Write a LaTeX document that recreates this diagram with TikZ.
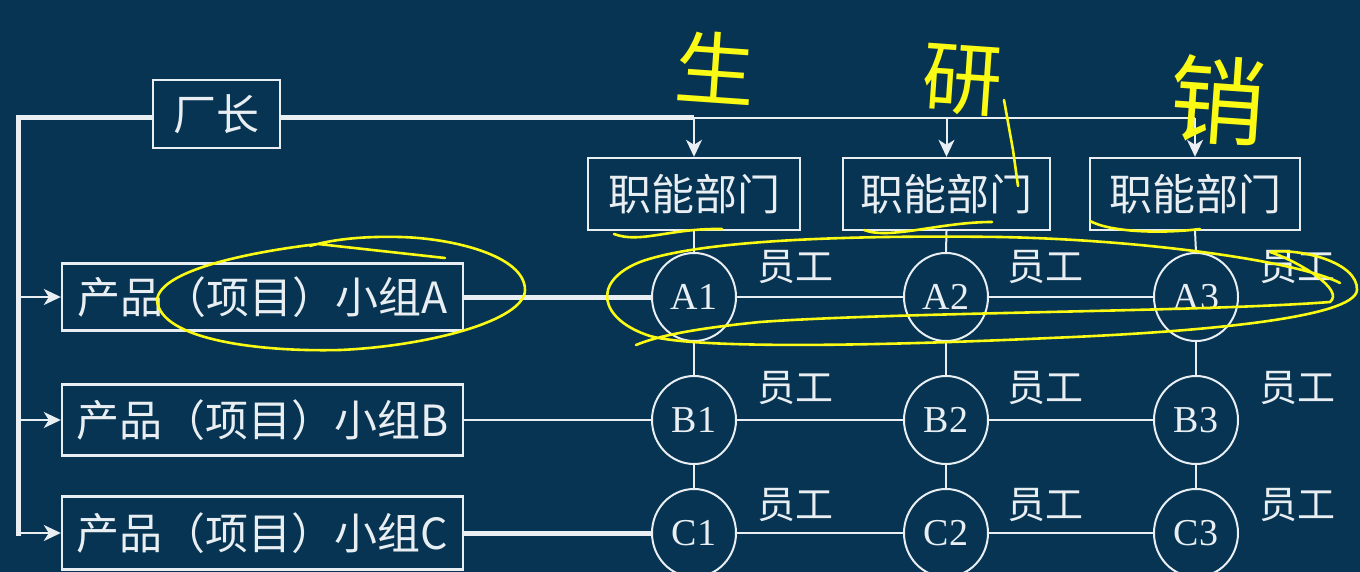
\documentclass[tikz,border=0pt]{standalone}
\usepackage{fontspec}
\setmainfont{Liberation Serif}
\newfontfamily\cjk{Noto Sans CJK SC}
\usetikzlibrary{arrows.meta,shapes.geometric}
\definecolor{bg}{RGB}{6,52,82}
\definecolor{ln}{RGB}{232,238,242}
\definecolor{hand}{RGB}{250,250,20}
\begin{document}
\begin{tikzpicture}[x=1pt,y=-1pt,
  box/.style={draw=ln,line width=2.4pt,text=ln,inner sep=0pt,font=\cjk\fontsize{43}{43}\selectfont},
  cell/.style={draw=ln,line width=2pt,ellipse,minimum width=84pt,minimum height=88pt,inner sep=0pt,text=ln,font=\fontsize{38}{38}\selectfont},
  staff/.style={text=ln,inner sep=0pt,font=\cjk\fontsize{38}{38}\selectfont},
  thin/.style={draw=ln,line width=2pt},
  thick/.style={draw=ln,line width=5pt},
  arr/.style={draw=ln,line width=2pt,-{Stealth[length=17pt,width=16pt,inset=5pt]}},
  hw/.style={draw=hand,line width=2.6pt,line cap=round,line join=round},
  hwt/.style={text=hand,inner sep=0pt,font=\cjk\fontsize{80}{80}\selectfont}]
\fill[bg] (0,0) rectangle (1360,572);
\useasboundingbox (0,0) rectangle (1360,572);

% boss
\node[box,minimum width=127pt,minimum height=68pt] (cz) at (216.5,114) {厂长};
% functional departments
\node[box,minimum width=212pt,minimum height=72pt] (f1) at (694,194) {职能部门};
\node[box,minimum width=207pt,minimum height=72pt] (f2) at (946.5,194) {职能部门};
\node[box,minimum width=210pt,minimum height=72pt] (f3) at (1195,194) {职能部门};
% product groups
\node[box,minimum width=401pt,minimum height=67pt] (ga) at (262.5,297) {产品（项目）小组A};
\node[box,minimum width=401pt,minimum height=71pt] (gb) at (262.5,420) {产品（项目）小组B};
\node[box,minimum width=401pt,minimum height=73pt] (gc) at (262.5,533) {产品（项目）小组C};

% cells
\foreach \r/\R/\y in {a/A/297,b/B/420,c/C/533}{
  \foreach \c/\x in {1/694,2/946,3/1196}{
    \node[cell] (\r\c) at (\x,\y) {\R\c};
  }
}
% staff labels
\foreach \r/\y in {a/267,b/388,c/505}{
  \foreach \c/\x in {1/795,2/1045,3/1297}{
    \node[staff] (e\r\c) at (\x,\y) {员工};
  }
}

% coordinates
\coordinate (tl) at (18,118);
\coordinate (bl) at (18,533);
\coordinate (la) at (18,297);
\coordinate (lb) at (18,420);
\coordinate (t1) at (694,118);
\coordinate (t2) at (946.5,118);
\coordinate (t3) at (1195,118);

% top bus
\draw[thick,line cap=rect] (cz.west |- tl) -- (tl) -- (bl);
\draw[thick] (cz.east |- t1) -- (t1);
\draw[thin] (t1) -- (t3);
\draw[arr] (t1) -- (f1.north);
\draw[arr] (t2) -- (f2.north);
\draw[arr] (t3) -- (f3.north);
% left branches
\draw[arr] (la) -- (ga.west);
\draw[arr] (lb) -- (gb.west);
\draw[arr] (bl) -- (gc.west);

% group to first cell
\draw[thick] (ga.east) -- (a1.west);
\draw[thin] (gb.east) -- (b1.west);
\draw[thick] (gc.east) -- (c1.west);

% row links
\foreach \r in {a,b,c}{
  \draw[thin] (\r1.east) -- (\r2.west);
  \draw[thin] (\r2.east) -- (\r3.west);
}
% column links
\foreach \c in {1,2,3}{
  \draw[thin] (f\c.south) -- (a\c.north);
  \draw[thin] (a\c.south) -- (b\c.north);
  \draw[thin] (b\c.south) -- (c\c.north);
}

% handwritten annotations
\node[hwt,rotate=-4] (h1) at (716,68) {生};
\node[hwt,rotate=-4] (h2) at (962,80) {研};
\node[hwt,rotate=-4,font=\cjk\fontsize{96}{96}\selectfont] (h3) at (1218,100) {销};
\draw[hw] (1004,100) -- (1013,150) -- (1018,186);

% underlines
\draw[hw] (614,234) .. controls (640,244) and (670,228) .. (722,229);
\draw[hw] (864,230) .. controls (890,240) and (940,222) .. (992,222);
\draw[hw] (1090,221) .. controls (1110,232) and (1160,234) .. (1200,229);

% ellipse around group A
\draw[hw] (445,258) -- (318,244)
  .. controls (250,252) and (160,270) .. (157,300)
  .. controls (160,340) and (260,352) .. (340,350)
  .. controls (430,346) and (525,320) .. (525,290)
  .. controls (525,255) and (450,238) .. (400,237)
  .. controls (360,236) and (330,240) .. (310,246);

% big ellipse around row A
\draw[hw] (1340,283)
  .. controls (1300,262) and (1150,240) .. (1000,237)
  .. controls (850,235) and (700,240) .. (640,262)
  .. controls (590,282) and (600,320) .. (650,336)
  .. controls (700,350) and (900,345) .. (1050,338)
  .. controls (1200,332) and (1355,318) .. (1357,290)
  .. controls (1358,262) and (1300,248) .. (1270,252)
  .. controls (1300,262) and (1345,290) .. (1330,302)
  .. controls (1200,312) and (900,312) .. (760,322)
  .. controls (700,328) and (660,335) .. (636,345);
\end{tikzpicture}
\end{document}
